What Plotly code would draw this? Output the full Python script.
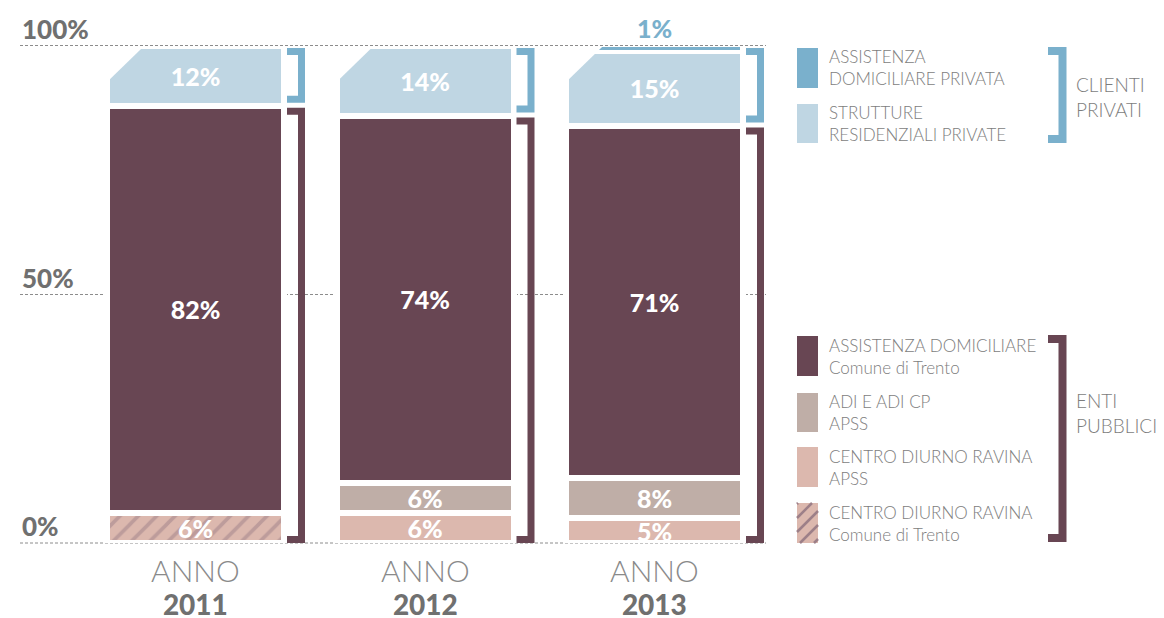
import plotly.graph_objects as go

# ---------------- data ----------------
years = ["2011", "2012", "2013"]
cdr_comune = [6, None, None]      # Centro diurno Ravina - Comune di Trento (hatched)
cdr_apss = [None, 6, 5]           # Centro diurno Ravina - APSS
adi_apss = [None, 6, 8]           # ADI e ADI CP - APSS
ad_comune = [82, 74, 71]          # Assistenza domiciliare - Comune di Trento
strutture = [12, 14, 15]          # Strutture residenziali private
ad_privata = [None, None, 1]      # Assistenza domiciliare privata

y_ticks = [0, 50, 100]
y_tick_text = ["0%", "50%", "100%"]

# ---------------- style ----------------
C_ADP = "#7ab0cc"
C_SRP = "#bfd6e3"
C_ADC = "#684653"
C_ADI = "#bfaea7"
C_CDR = "#dcb8ae"
C_HATCH = "#9d7f88"
C_GRID = "#8c8c8c"
GRAY_B = "#707070"
GRAY_L = "#7d7d7d"
FONT = "Lato"

OFF = 8                      # page body margin
W, H = 1164, 618
# target positions in page pixels
L, R, T, B = 20, 766, 46, 543
CX0, STEP = 195.5, 229.5     # page-pixel centre of first bar, spacing
XMIN = (L - CX0) / STEP
XMAX = (R - CX0) / STEP
BAR_W = (171 + 6) / STEP


def px2x(px):
    return XMIN + (px - L) / (R - L) * (XMAX - XMIN)


def py2y(py):
    return (B - py) / (B - T) * 100


def y2py(y):
    return B - y / 100 * (B - T)


def pxp(px):
    return (px - L) / (R - L)


def pyp(py):
    return (B - py) / (B - T)


xs = list(range(len(years)))


def lbl(vals):
    return [f"{v}%" if v is not None else "" for v in vals]


fig = go.Figure()
series = [
    ("CENTRO DIURNO RAVINA Comune di Trento", cdr_comune, C_CDR, True),
    ("CENTRO DIURNO RAVINA APSS", cdr_apss, C_CDR, False),
    ("ADI E ADI CP APSS", adi_apss, C_ADI, False),
    ("ASSISTENZA DOMICILIARE Comune di Trento", ad_comune, C_ADC, False),
    ("STRUTTURE RESIDENZIALI PRIVATE", strutture, C_SRP, False),
]
for name, vals, col, hatch in series:
    marker = dict(color=col, line=dict(color="white", width=6))
    if hatch:
        marker["pattern"] = dict(shape="/", fgcolor=C_HATCH, bgcolor=col,
                                 size=13, solidity=0.28, fillmode="overlay")
    fig.add_trace(go.Bar(
        x=xs, y=vals, name=name, width=BAR_W, marker=marker,
        text=lbl(vals), textposition="inside", insidetextanchor="middle",
        constraintext="none",
        textfont=dict(family=FONT, size=25, color="white", weight=900),
        hoverinfo="skip", showlegend=False))

fig.add_trace(go.Bar(
    x=xs, y=ad_privata, name="ASSISTENZA DOMICILIARE PRIVATA", width=172 / STEP,
    marker=dict(color=C_ADP, line=dict(color="white", width=1)),
    text=lbl(ad_privata), textposition="outside", constraintext="none",
    textfont=dict(family=FONT, size=25, color=C_ADP, weight=900),
    cliponaxis=False, hoverinfo="skip", showlegend=False))

shapes = []
annotations = []

# dotted gridlines (100% line drawn above so it shows over the cut corners)
for v in y_ticks:
    yy = pyp(y2py(v) - (0.5 if v == 100 else 0))
    shapes.append(dict(
        type="line", xref="paper", yref="paper", x0=0, x1=1, y0=yy, y1=yy,
        layer="above" if v == 100 else "below",
        line=dict(color=C_GRID, width=1, dash="3px,2px")))

# chamfered top-left corner and group brackets for each bar
for i in xs:
    cpx = CX0 + STEP * i
    left = cpx - 85.5
    cut = 33
    shapes.append(dict(
        type="path", xref="x", yref="y", layer="above",
        path=(f"M {px2x(left-6)},{py2y(T+cut+6)} L {px2x(left-6)},{py2y(T+0.6)} "
              f"L {px2x(left+cut+0.6)},{py2y(T+0.6)} Z"),
        fillcolor="white", line=dict(width=0)))
    pub = sum(v for v in (cdr_comune[i], cdr_apss[i], adi_apss[i], ad_comune[i]) if v)
    groups = [(100, pub, C_ADP), (pub, 0, C_ADC)]
    for top, bot, col in groups:
        ytop = y2py(top) + 2 + 3.5
        ybot = y2py(bot) - 3 - 3.5 if bot > 0 else y2py(bot) - 3.5
        xs0 = cpx + 91.5
        xv = cpx + 106
        shapes.append(dict(
            type="path", xref="x", yref="y", layer="above",
            path=(f"M {px2x(xs0)},{py2y(ytop)} L {px2x(xv)},{py2y(ytop)} "
                  f"L {px2x(xv)},{py2y(ybot)} L {px2x(xs0)},{py2y(ybot)}"),
            line=dict(color=col, width=7)))

# y labels
for v, t in zip(y_ticks, y_tick_text):
    annotations.append(dict(
        x=0, xref="paper", y=v, yref="y", xanchor="left", yanchor="bottom",
        text=t, showarrow=False, yshift=-1,
        font=dict(family=FONT, size=26, color=GRAY_B, weight=900)))

# x labels: "ANNO" (light) over the year (heavy), one two-line label each
for i, yr in zip(xs, years):
    annotations.append(dict(
        x=i, xref="x", y=pyp(586), yref="paper", xanchor="center", yanchor="middle",
        text=("<span style='font-size:30px;color:#8a8a8a'>ANNO</span><br>"
              f"<span style='font-size:28px;font-weight:900;color:{GRAY_B}'>{yr}</span>"),
        showarrow=False, borderpad=0,
        font=dict(family=FONT, size=25.5, color="#8a8a8a", weight=300)))

# custom legend
legend_items = [
    (48, 88, C_ADP, False, "ASSISTENZA<br>DOMICILIARE PRIVATA"),
    (104, 143, C_SRP, False, "STRUTTURE<br>RESIDENZIALI PRIVATE"),
    (336, 376, C_ADC, False, "ASSISTENZA DOMICILIARE<br>Comune di Trento"),
    (393, 432, C_ADI, False, "ADI E ADI CP<br>APSS"),
    (447, 487, C_CDR, False, "CENTRO DIURNO RAVINA<br>APSS"),
    (503, 543, C_CDR, True, "CENTRO DIURNO RAVINA<br>Comune di Trento"),
]
SX0, SX1 = 797, 818
for y0, y1, col, hatch, txt in legend_items:
    shapes.append(dict(type="rect", xref="paper", yref="paper",
                       x0=pxp(SX0), x1=pxp(SX1), y0=pyp(y1), y1=pyp(y0),
                       fillcolor=col, line=dict(width=0), layer="above"))
    if hatch:
        w, h = SX1 - SX0, y1 - y0
        c = -w + 4
        while c < h:
            ua, ub = max(0, -c), min(w, h - c)
            if ub > ua:
                shapes.append(dict(
                    type="line", xref="paper", yref="paper", layer="above",
                    x0=pxp(SX0 + ua), y0=pyp(y1 - (ua + c)),
                    x1=pxp(SX0 + ub), y1=pyp(y1 - (ub + c)),
                    line=dict(color=C_HATCH, width=2.5)))
            c += 14
    annotations.append(dict(
        x=pxp(827), xref="paper", y=pyp((y0 + y1) / 2), yref="paper",
        xanchor="left", yanchor="middle", align="left", text=txt, showarrow=False,
        font=dict(family=FONT, size=17, color=GRAY_L, weight=300)))

# legend group brackets
for top, bot, col, txt, ty in [(47, 143, C_ADP, "CLIENTI<br>PRIVATI", 97),
                               (335, 542, C_ADC, "ENTI<br>PUBBLICI", 413)]:
    yt, yb = top + 4, bot - 4
    shapes.append(dict(
        type="path", xref="paper", yref="paper", layer="above",
        path=(f"M {pxp(1048)},{pyp(yt)} L {pxp(1062.5)},{pyp(yt)} "
              f"L {pxp(1062.5)},{pyp(yb)} L {pxp(1048)},{pyp(yb)}"),
        line=dict(color=col, width=8)))
    annotations.append(dict(
        x=pxp(1074), xref="paper", y=pyp(ty), yref="paper",
        xanchor="left", yanchor="middle", align="left", text=txt, showarrow=False,
        font=dict(family=FONT, size=19, color=GRAY_L, weight=300)))

fig.update_layout(
    width=W, height=H, barmode="stack",
    margin=dict(l=L - OFF, r=W - (R - OFF), t=T - OFF, b=H - (B - OFF), pad=0),
    paper_bgcolor="white", plot_bgcolor="white",
    xaxis=dict(range=[XMIN, XMAX], showgrid=False, zeroline=False,
               showticklabels=False, ticks="", fixedrange=True),
    yaxis=dict(range=[0, 100], showgrid=False, showticklabels=False,
               zeroline=False, ticks="", fixedrange=True),
    shapes=shapes, annotations=annotations,
    font=dict(family=FONT),
)

fig.write_html("out.html")
